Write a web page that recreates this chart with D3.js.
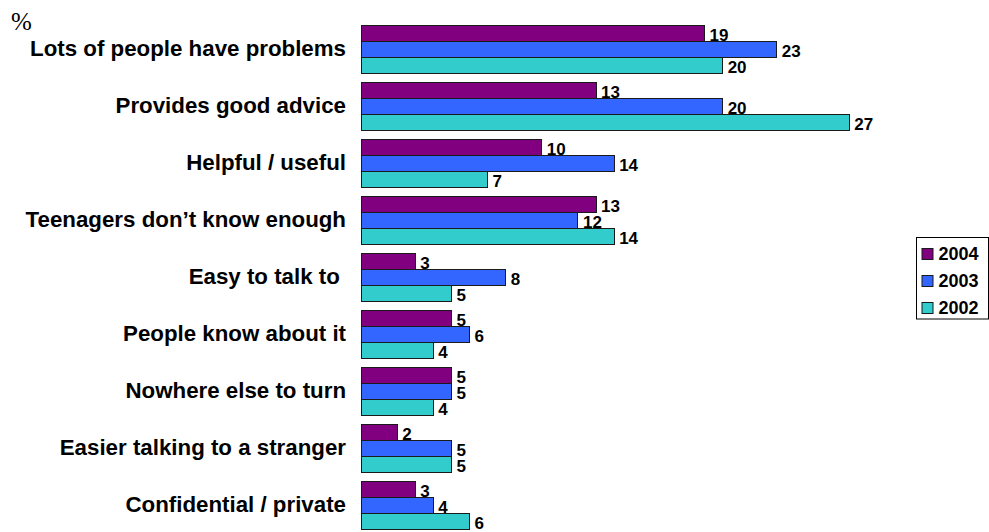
<!DOCTYPE html>
<html>
<head>
<meta charset="utf-8">
<script src="https://cdn.jsdelivr.net/npm/d3@7"></script>
<style>
  html, body { margin: 0; padding: 0; background: #fff; }
  svg { display: block; }
  text { font-family: "Liberation Sans", Arial, Helvetica, sans-serif; font-weight: bold; fill: #000; }
</style>
</head>
<body>
<svg id="chart" width="989" height="532"></svg>
<script>
// Reasons given, share of respondents (%)
const categories = [
  "Lots of people have problems",
  "Provides good advice",
  "Helpful / useful",
  "Teenagers don’t know enough",
  "Easy to talk to ",
  "People know about it",
  "Nowhere else to turn",
  "Easier talking to a stranger",
  "Confidential / private"
];
const seriesNames = ["2004", "2003", "2002"];
const values2004 = [19, 13, 10, 13, 3, 5, 5, 2, 3];
const values2003 = [23, 20, 14, 12, 8, 6, 5, 5, 4];
const values2002 = [20, 27, 7, 14, 5, 4, 4, 5, 6];
const seriesColors = ["#800080", "#3366FF", "#33CCCC"];

const seriesValues = [values2004, values2003, values2002];
const rows = categories.map((c, i) => ({
  category: c,
  bars: seriesNames.map((s, k) => ({ series: s, value: seriesValues[k][i] }))
}));

const svg = d3.select("#chart");

const x = d3.scaleLinear().domain([0, 27]).range([361, 849.2]);
const y = d3.scaleBand().domain(categories)
  .range([20.5, 533.5]).paddingInner(9 / 57).paddingOuter(4.5 / 57);
const ySeries = d3.scaleBand().domain(seriesNames).range([0, y.bandwidth()]);
const color = d3.scaleOrdinal().domain(seriesNames).range(seriesColors);

// Category axis on the left, labels only
const yAxis = svg.append("g")
  .attr("transform", `translate(${x(0)},0)`)
  .call(d3.axisLeft(y).tickSize(0).tickPadding(15));
yAxis.select(".domain").remove();
yAxis.selectAll("text")
  .style("font-size", "22.3px")
  .style("font-family", '"Liberation Sans", Arial, sans-serif')
  .style("font-weight", "bold")
  .style("white-space", "pre")
  .attr("fill", "#000");

// Unit marker
svg.append("text")
  .attr("x", 11)
  .attr("y", 30)
  .style("font-family", '"Liberation Serif", "Times New Roman", serif')
  .style("font-weight", "normal")
  .style("font-size", "25px")
  .text("%");

// Bars
const groups = svg.append("g").selectAll("g")
  .data(rows)
  .join("g")
  .attr("transform", d => `translate(0,${y(d.category)})`);

groups.selectAll("rect")
  .data(d => d.bars)
  .join("rect")
  .attr("x", x(0))
  .attr("y", d => ySeries(d.series))
  .attr("width", d => x(d.value) - x(0))
  .attr("height", ySeries.bandwidth())
  .attr("fill", d => color(d.series))
  .attr("stroke", "#1a1a1a")
  .attr("stroke-width", 1)
  .attr("shape-rendering", "crispEdges");

// Value labels
groups.selectAll("text.val")
  .data(d => d.bars)
  .join("text")
  .attr("class", "val")
  .attr("x", d => x(d.value) + 5)
  .attr("y", d => ySeries(d.series) + ySeries.bandwidth() - 0.5)
  .style("font-size", "17px")
  .text(d => d.value);

// Legend
const legend = svg.append("g").attr("transform", "translate(916.5,237.5)");
legend.append("rect")
  .attr("width", 72)
  .attr("height", 81.5)
  .attr("fill", "#fff")
  .attr("stroke", "#000")
  .attr("stroke-width", 1);
const items = legend.selectAll("g.item")
  .data(seriesNames)
  .join("g")
  .attr("class", "item")
  .attr("transform", (d, i) => `translate(0,${11 + i * 27})`);
items.append("rect")
  .attr("x", 5.5)
  .attr("y", 0)
  .attr("width", 11)
  .attr("height", 11)
  .attr("fill", d => color(d))
  .attr("stroke", "#1a1a1a")
  .attr("stroke-width", 1);
items.append("text")
  .attr("x", 22)
  .attr("y", 11.5)
  .style("font-size", "18px")
  .text(d => d);
</script>
</body>
</html>
